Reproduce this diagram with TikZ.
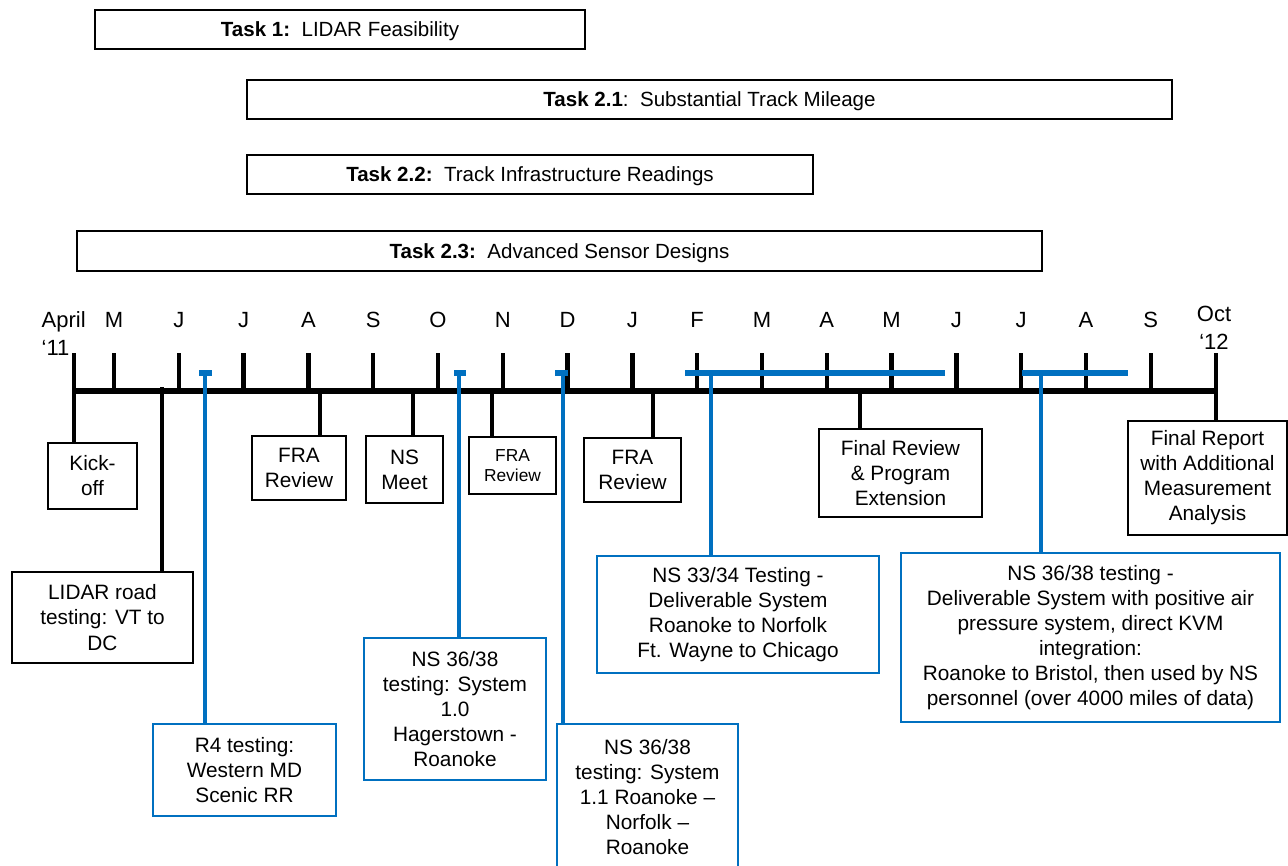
\documentclass[tikz,border=0pt]{standalone}
\usepackage{fontspec}
\setmainfont{Liberation Sans}
\definecolor{testblue}{HTML}{0070C0}

\tikzset{
  taskbar/.style 2 args={draw,line width=2.2pt,inner sep=0pt,text depth=0pt,
    minimum width=#1*0.75pt,minimum height=#2*0.75pt,
    font=\fontsize{15.4}{18}\selectfont},
  evbox/.style 2 args={draw,line width=1.9pt,inner sep=0pt,align=center,
    minimum width=#1*0.75pt,minimum height=#2*0.75pt,
    font=\fontsize{15.6}{18.8}\selectfont},
  testbox/.style 2 args={evbox={#1}{#2},draw=testblue},
  month/.style={anchor=base,font=\fontsize{16.5}{20.5}\selectfont},
  monthtick/.style={line width=3.2pt},
  link/.style={line width=3pt},
  bluelink/.style={line width=3pt,testblue},
  bluemark/.style={line width=3.8pt,testblue}
}

\begin{document}
\begin{tikzpicture}[x=0.75pt,y=-0.75pt]
\useasboundingbox (0,0) rectangle (1288,865);

\node[taskbar={490}{39}] (task1) at (340,29.5)
      {\textbf{Task 1:}\ \ LIDAR Feasibility};
\node[taskbar={925}{39}] (task21) at (709.5,99.5)
      {\textbf{Task 2.1}:\ \ Substantial Track Mileage};
\node[taskbar={566}{39}] (task22) at (530,174.5)
      {\textbf{Task 2.2:}\ \ Track Infrastructure Readings};
\node[taskbar={965}{40}] (task23) at (559.5,251)
      {\textbf{Task 2.3:}\ \ Advanced Sensor Designs};

\coordinate (start) at (74,391);
\coordinate (end) at (1216,391);

\node[month,anchor=base west,align=left,
      font=\fontsize{16.5}{21}\selectfont] (april) at (37,355) {April\\‘11};
\node[month,align=center,
      font=\fontsize{16.5}{20.5}\selectfont] (oct) at (1214,349) {Oct\\‘12};
\draw[monthtick] (74,353) -- (start);
\draw[monthtick] (1216,353) -- (end);
\foreach \m [count=\k from 0] in {M,J,J,A,S,O,N,D,J,F,M,A,M,J,J,A,S}
{
  \draw[monthtick] (114+64.8*\k,353) -- (114+64.8*\k,391);
  \node[month] (m\k) at (114+64.8*\k,327) {\m};
}
\draw[line width=3.8pt] (start) -- (end);

\node[evbox={89}{66}] (kickoff) at (92.5,476) {Kick-\\off};
\node[evbox={181}{91}] (lidarroad) at (102.5,617.5)
      {LIDAR road\\testing: VT to\\DC};
\node[evbox={94}{64}] (frarev1) at (299,468) {FRA\\Review};
\node[evbox={77}{67}] (nsmeet) at (404.5,469.5) {NS\\Meet};
\node[evbox={87}{57},font=\fontsize{13}{15}\selectfont]
      (frarev2) at (512.5,465.5) {FRA\\Review};
\node[evbox={97}{64}] (frarev3) at (632.5,470) {FRA\\Review};
\node[evbox={163}{88}] (finalrev) at (900.5,473)
      {Final Review\\\& Program\\Extension};
\node[evbox={159}{114}] (finalrep) at (1207.5,478)
      {Final Report\\with Additional\\Measurement\\Analysis};

\coordinate (elidarroad) at (162,387);
\draw[link] (start) -- (start |- kickoff.north);
\draw[link] (elidarroad) -- (elidarroad |- lidarroad.north);
\draw[link] (end) -- (end |- finalrep.north);
\foreach \x/\n in {320/frarev1,413/nsmeet,492/frarev2,653/frarev3,860/finalrev}
{
  \coordinate (e\n) at (\x,391);
  \draw[link] (e\n) -- (e\n |- \n.north);
}

\node[testbox={183}{92}] (rfour) at (244.5,770)
      {R4 testing:\\Western MD\\Scenic RR};
\node[testbox={182}{142}] (nssys10) at (455,709)
      {NS 36/38\\testing: System\\1.0\\Hagerstown -\\Roanoke};
\node[testbox={181}{146}] (nssys11) at (647.5,797)
      {NS 36/38\\testing: System\\1.1 Roanoke –\\Norfolk –\\Roanoke};
\node[testbox={282}{117}] (nsdeliv) at (738,614.5)
      {NS 33/34 Testing -\\Deliverable System\\Roanoke to Norfolk\\Ft. Wayne to Chicago};
\node[testbox={379}{169}] (nsbristol) at (1090.5,637.5)
      {NS 36/38 testing -\\Deliverable System with positive air\\pressure system, direct KVM\\integration:\\Roanoke to Bristol, then used by NS\\personnel (over 4000 miles of data)};

\foreach \x/\n in {205/rfour,459/nssys10,563/nssys11,711/nsdeliv,1041/nsbristol}
{
  \coordinate (b\n) at (\x,373);
  \draw[bluelink] (b\n) -- (b\n |- \n.north);
}
\draw[bluemark] (199,373) -- (212,373);
\draw[bluemark] (454,373) -- (466,373);
\draw[bluemark] (555,373) -- (568,373);
\draw[bluemark] (685,373) -- (945,373);
\draw[bluemark] (1022,373) -- (1128,373);

\end{tikzpicture}
\end{document}
